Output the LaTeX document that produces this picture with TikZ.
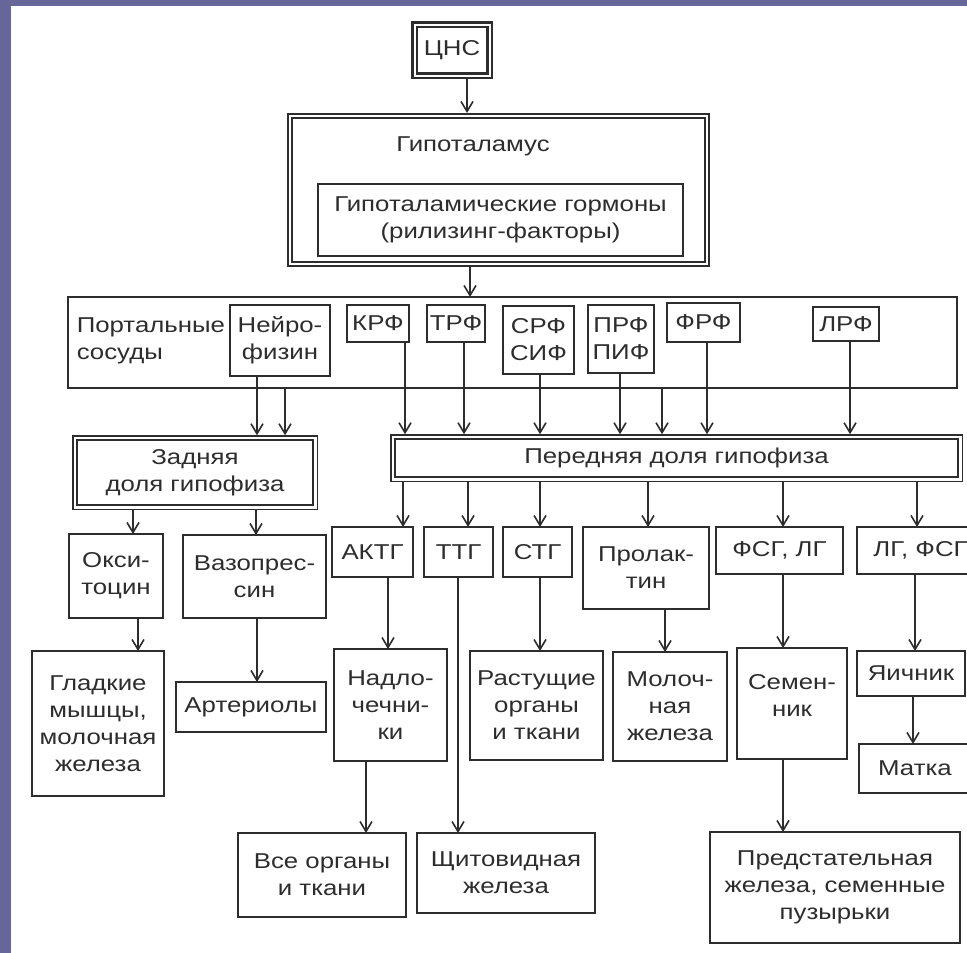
\documentclass[tikz,border=0pt]{standalone}
\usepackage{fontspec}
\setmainfont[FakeStretch=1.2]{Liberation Sans}
\usetikzlibrary{arrows.meta}
\definecolor{frame}{RGB}{102,102,153}
\definecolor{ink}{RGB}{45,45,45}

\begin{document}
\begin{tikzpicture}[x=1pt,y=-1pt,->,>={Straight Barb[length=10pt,width=12pt]},
    color=ink,line width=1.6pt,
    box/.style={draw,fill=white,align=center,inner sep=0pt,outer sep=0pt,
      font=\fontsize{21.5}{27}\selectfont},
    dbox/.style={box,double,double distance=2.5pt},
    bare/.style={inner sep=0pt,font=\fontsize{21.5}{27}\selectfont}]

\useasboundingbox (0,0) rectangle (967,953);
\clip (0,0) rectangle (967,953);
\fill[frame] (0,0) rectangle (11,953);
\fill[frame] (0,0) rectangle (967,6);

\node[dbox,line width=2.4pt,double distance=2pt,minimum width=75,minimum height=51] (cns) at (452,50) {ЦНС};
\node[dbox,minimum width=417,minimum height=148] (hyp) at (498.5,190) {};
\node[bare] (hyplab) at (473,146) {Гипоталамус};
\node[box,minimum width=365,minimum height=72] (horm) at (500.5,220) {Гипоталамические гормоны\\(рилизинг-факторы)};

\node[box,minimum width=889,minimum height=91] (portal) at (512.5,342.5) {};
\node[bare,anchor=west,align=left] (portlab) at (76,341) {Портальные\\сосуды};
\node[box,minimum width=100,minimum height=71] (neuro) at (280,340.5) {Нейро-\\физин};
\node[box,minimum width=62,minimum height=37] (krf) at (378,323.5) {КРФ};
\node[box,minimum width=58,minimum height=37] (trf) at (456,323.5) {ТРФ};
\node[box,minimum width=71,minimum height=68] (srf) at (538.5,340) {СРФ\\СИФ};
\node[box,minimum width=66,minimum height=68] (prf) at (621,339) {ПРФ\\ПИФ};
\node[box,minimum width=73,minimum height=39] (frf) at (703.5,322.5) {ФРФ};
\node[box,minimum width=66,minimum height=34] (lrf) at (846,324) {ЛРФ};

\node[dbox,minimum width=240.5,minimum height=69.5] (post) at (195,472.5) {Задняя\\доля гипофиза};
\node[dbox,minimum width=567.5,minimum height=42.5] (ant) at (676.5,458) {Передняя доля гипофиза};

\node[box,minimum width=94,minimum height=84] (oxy) at (116,576) {Окси-\\тоцин};
\node[box,minimum width=143,minimum height=83] (vaso) at (254.5,576.5) {Вазопрес-\\син};
\node[box,minimum width=81,minimum height=50] (actg) at (372.5,552) {АКТГ};
\node[box,minimum width=69,minimum height=50] (ttg) at (458.5,552) {ТТГ};
\node[box,minimum width=69,minimum height=50] (stg) at (537.5,552) {СТГ};
\node[box,minimum width=126,minimum height=82] (prl) at (646,568) {Пролак-\\тин};
\node[box,minimum width=127,minimum height=47] (fsglg) at (779.5,550.5) {ФСГ, ЛГ};
\node[box,minimum width=127,minimum height=47] (lgfsg) at (920.5,550.5) {ЛГ, ФСГ};

\node[box,minimum width=132,minimum height=145] (smooth) at (98,723.5) {Гладкие\\мышцы,\\молочная\\железа};
\node[box,minimum width=150,minimum height=50] (arter) at (251,707) {Артериолы};
\node[box,minimum width=113,minimum height=112] (adrenal) at (390.5,705) {Надло-\\чечни-\\ки};
\node[box,minimum width=133,minimum height=109] (grow) at (536.5,705.5) {Растущие\\органы\\и ткани};
\node[box,minimum width=114,minimum height=109] (milk) at (670,706.5) {Молоч-\\ная\\железа};
\node[box,minimum width=110,minimum height=111] (testis) at (792,703.5) {};
\node[bare,align=center] (testlab) at (792,695) {Семен-\\ник};
\node[box,minimum width=108,minimum height=45] (ovary) at (911,673.5) {Яичник};
\node[box,minimum width=112,minimum height=49] (uterus) at (915,768.5) {Матка};

\node[box,minimum width=168,minimum height=84] (allorg) at (322,875) {Все органы\\и ткани};
\node[box,minimum width=178,minimum height=80] (thyroid) at (506,873) {Щитовидная\\железа};
\node[box,minimum width=250,minimum height=111] (prost) at (835,887.5) {Предстательная\\железа, семенные\\пузырьки};

\path[shorten <=3pt,shorten >=3pt]
(467,0 |- cns.south) edge (467,0 |- hyp.north)
;
\path
(470,0 |- hyp.south) edge[shorten <=2.5pt] (470,0 |- portal.north)
(257,0 |- neuro.south) edge[shorten >=2.5pt] (257,0 |- post.north)
(285,0 |- portal.south) edge[shorten >=2.5pt] (285,0 |- post.north)
(405,0 |- krf.south) edge[shorten >=2.5pt] (405,0 |- ant.north)
(464,0 |- trf.south) edge[shorten >=2.5pt] (464,0 |- ant.north)
(540,0 |- srf.south) edge[shorten >=2.5pt] (540,0 |- ant.north)
(620,0 |- prf.south) edge[shorten >=2.5pt] (620,0 |- ant.north)
(662,0 |- portal.south) edge[shorten >=2.5pt] (662,0 |- ant.north)
(707,0 |- frf.south) edge[shorten >=2.5pt] (707,0 |- ant.north)
(850,0 |- lrf.south) edge[shorten >=2.5pt] (850,0 |- ant.north)
;
\path[shorten <=2.5pt]
(133,0 |- post.south) edge (133,0 |- oxy.north)
(256,0 |- post.south) edge (256,0 |- vaso.north)
(403,0 |- ant.south) edge (403,0 |- actg.north)
(468,0 |- ant.south) edge (468,0 |- ttg.north)
(540,0 |- ant.south) edge (540,0 |- stg.north)
(648,0 |- ant.south) edge (648,0 |- prl.north)
(783,0 |- ant.south) edge (783,0 |- fsglg.north)
(917,0 |- ant.south) edge (917,0 |- lgfsg.north)
;
\path
(138,0 |- oxy.south) edge (138,0 |- smooth.north)
(257,0 |- vaso.south) edge (257,0 |- arter.north)
(388,0 |- actg.south) edge (388,0 |- adrenal.north)
(540,0 |- stg.south) edge (540,0 |- grow.north)
(665,0 |- prl.south) edge (665,0 |- milk.north)
(783,0 |- fsglg.south) edge (783,0 |- testis.north)
(915,0 |- lgfsg.south) edge (915,0 |- ovary.north)
(913,0 |- ovary.south) edge (913,0 |- uterus.north)
(366,0 |- adrenal.south) edge (366,0 |- allorg.north)
(458,0 |- ttg.south) edge (458,0 |- thyroid.north)
(783,0 |- testis.south) edge (783,0 |- prost.north)
;

\end{tikzpicture}
\end{document}
